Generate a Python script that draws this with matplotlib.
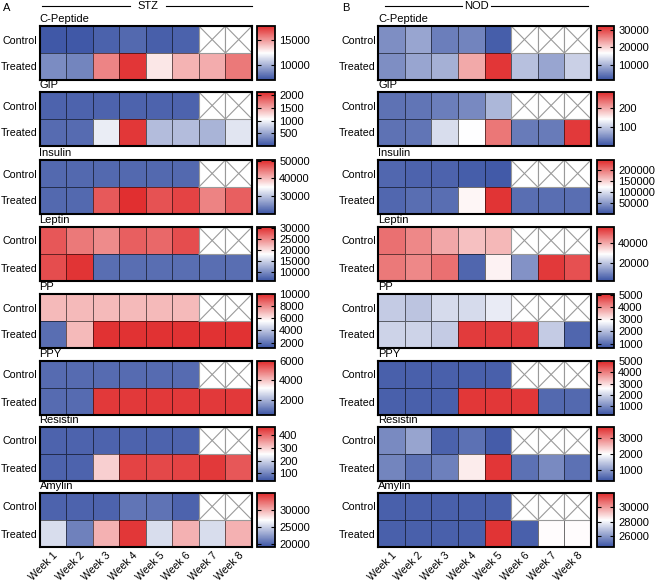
import numpy as np
import matplotlib
matplotlib.use("Agg")
import matplotlib.pyplot as plt
from matplotlib.colors import LinearSegmentedColormap

plt.rcParams['font.family'] = ['Liberation Sans', 'DejaVu Sans']
plt.rcParams['font.size'] = 8

nan = np.nan
weeks = ["Week 1", "Week 2", "Week 3", "Week 4", "Week 5", "Week 6", "Week 7", "Week 8"]
groups = ["Control", "Treated"]
hormones = ["C-Peptide", "GIP", "Insulin", "Leptin", "PP", "PPY", "Resistin", "Amylin"]

# STZ model: [control, treated] per hormone
stz_c_peptide = [[7200, 7200, 7500, 7700, 7400, 7500, nan, nan],
                 [8800, 8600, 15500, 17500, 13000, 14300, 14500, 15800]]
stz_gip = [[100, 100, 100, 100, 100, 100, nan, nan],
           [150, 150, 950, 2050, 650, 650, 600, 900]]
stz_insulin = [[22000, 22000, 22000, 22000, 22000, 22000, nan, nan],
               [22000, 22000, 47000, 50000, 47500, 48500, 44000, 46500]]
stz_leptin = [[28000, 26000, 25000, 27500, 27000, 28500, nan, nan],
              [28500, 30000, 8000, 8000, 8000, 8000, 8000, 8000]]
stz_pp = [[7000, 7000, 7000, 7000, 7000, 7000, nan, nan],
          [1800, 7000, 9800, 9800, 9800, 9800, 9800, 9800]]
stz_ppy = [[800, 800, 800, 800, 800, 800, nan, nan],
           [800, 800, 5800, 5800, 5800, 5800, 5800, 5800]]
stz_resistin = [[60, 60, 60, 60, 60, 60, nan, nan],
                [60, 60, 300, 440, 435, 440, 450, 420]]
stz_amylin = [[20000, 20000, 20000, 20800, 20700, 20000, nan, nan],
              [25500, 21300, 30000, 34500, 25500, 30000, 25500, 30000]]

# NOD model
nod_c_peptide = [[6500, 8500, 5000, 5500, 2000, nan, nan, nan],
                 [6500, 8500, 9500, 23000, 31500, 11000, 8500, 12500]]
nod_gip = [[30, 32, 40, 48, 85, nan, nan, nan],
           [30, 32, 115, 142, 230, 38, 38, 270]]
nod_insulin = [[15000, 12000, 12000, 8000, 5000, nan, nan, nan],
               [15000, 20000, 20000, 128000, 240000, 20000, 20000, 20000]]
nod_leptin = [[47000, 44000, 40000, 37000, 38000, nan, nan, nan],
              [46000, 44000, 47000, 5000, 30500, 12000, 54000, 51000]]
nod_pp = [[2200, 2100, 2400, 2400, 2600, nan, nan, nan],
          [2300, 2300, 2200, 4900, 4900, 4900, 2200, 900]]
nod_ppy = [[400, 400, 400, 400, 400, nan, nan, nan],
           [400, 400, 400, 4800, 4800, 4800, 500, 500]]
nod_resistin = [[850, 1100, 450, 600, 400, nan, nan, nan],
                [800, 600, 750, 2150, 3600, 600, 850, 600]]
nod_amylin = [[24800, 24800, 24800, 24800, 24800, nan, nan, nan],
              [24800, 24800, 24800, 24800, 31800, 24800, 28300, 28300]]

stz_data = [stz_c_peptide, stz_gip, stz_insulin, stz_leptin, stz_pp, stz_ppy, stz_resistin, stz_amylin]
nod_data = [nod_c_peptide, nod_gip, nod_insulin, nod_leptin, nod_pp, nod_ppy, nod_resistin, nod_amylin]

# colour scale ranges and colorbar ticks
stz_ranges = [(7000, 17800), (0, 2120), (20000, 50400), (6000, 30600),
              (1100, 10000), (400, 6000), (40, 465), (19200, 35000)]
stz_ticks = [[10000, 15000], [500, 1000, 1500, 2000], [30000, 40000, 50000],
             [10000, 15000, 20000, 25000, 30000], [2000, 4000, 6000, 8000, 10000],
             [2000, 4000, 6000], [100, 200, 300, 400], [20000, 25000, 30000]]
nod_ranges = [(1000, 32400), (5, 280), (0, 246000), (2000, 56000),
              (640, 5080), (200, 4950), (300, 3700), (24500, 32000)]
nod_ticks = [[10000, 20000, 30000], [100, 200], [50000, 100000, 150000, 200000],
             [20000, 40000], [1000, 2000, 3000, 4000, 5000], [1000, 2000, 3000, 4000, 5000],
             [1000, 2000, 3000], [26000, 28000, 30000]]

cmap = LinearSegmentedColormap.from_list("bwr_gp", ["#3a53a4", "#ffffff", "#e02a2b"])

W, H = 658, 584
fig = plt.figure(figsize=(W / 100, H / 100), dpi=100)


def px(left, top, w, h):
    return [left / W, 1 - (top + h) / H, w / W, h / H]


tops = [26, 92, 160, 227, 294, 361, 427, 493]
hm_h = 54


def draw_panel(data, ranges, ticks, hm_left, hm_w, cb_left, cb_w):
    for i, name in enumerate(hormones):
        arr = np.array(data[i], dtype=float)
        ax = fig.add_axes(px(hm_left, tops[i], hm_w, hm_h))
        m = np.ma.masked_invalid(arr)
        mesh = ax.pcolormesh(m, cmap=cmap, vmin=ranges[i][0], vmax=ranges[i][1],
                             edgecolors=(0, 0, 0, 0.55), linewidth=0.7)
        for r, c in zip(*np.where(np.isnan(arr))):
            ax.add_patch(plt.Rectangle((c, r), 1, 1, facecolor='white',
                                       edgecolor='#9a9a9a', lw=0.8))
            ax.plot([c, c + 1], [r, r + 1], color='#9a9a9a', lw=0.8)
            ax.plot([c, c + 1], [r + 1, r], color='#9a9a9a', lw=0.8)
        ax.set_xlim(0, arr.shape[1])
        ax.set_ylim(arr.shape[0], 0)
        ax.set_yticks(np.arange(2) + 0.5)
        ax.set_yticklabels(groups, fontsize=7.7)
        ax.tick_params(axis='y', length=0, pad=1.5)
        if i == len(hormones) - 1:
            ax.set_xticks(np.arange(8) + 0.5)
            ax.set_xticklabels(weeks, rotation=45, ha='right', va='top',
                               rotation_mode='anchor', fontsize=7.6)
            ax.tick_params(axis='x', length=0, pad=2)
        else:
            ax.set_xticks([])
        for s in ax.spines.values():
            s.set_linewidth(1.5)
        ax.text(0, 1.03, name, transform=ax.transAxes, ha='left', va='bottom')

        cax = fig.add_axes(px(cb_left, tops[i], cb_w, hm_h))
        cb = fig.colorbar(mesh, cax=cax)
        cb.set_ticks(ticks[i])
        cb.set_ticklabels([str(t) for t in ticks[i]])
        cb.outline.set_linewidth(1.3)
        cax.tick_params(which='both', direction='in', left=True, right=True,
                        length=3, width=0.8, pad=3)
        cax.minorticks_off()


draw_panel(stz_data, stz_ranges, stz_ticks, 39.5, 212.5, 257, 18)
draw_panel(nod_data, nod_ranges, nod_ticks, 378, 213, 597, 17)

# panel headers
fig.text(3 / W, 1 - 8 / H, "A", ha='left', va='center', fontsize=8)
fig.text(148 / W, 1 - 6 / H, "STZ", ha='center', va='center', fontsize=8)
fig.add_artist(plt.Line2D([42 / W, 130 / W], [1 - 6 / H] * 2, color='black', lw=0.8))
fig.add_artist(plt.Line2D([166 / W, 252 / W], [1 - 6 / H] * 2, color='black', lw=0.8))
fig.text(342 / W, 1 - 8 / H, "B", ha='left', va='center', fontsize=8)
fig.text(476 / W, 1 - 6 / H, "NOD", ha='center', va='center', fontsize=8)
fig.add_artist(plt.Line2D([385 / W, 462 / W], [1 - 6 / H] * 2, color='black', lw=0.8))
fig.add_artist(plt.Line2D([491 / W, 588 / W], [1 - 6 / H] * 2, color='black', lw=0.8))

fig.savefig("out.png", dpi=100)
